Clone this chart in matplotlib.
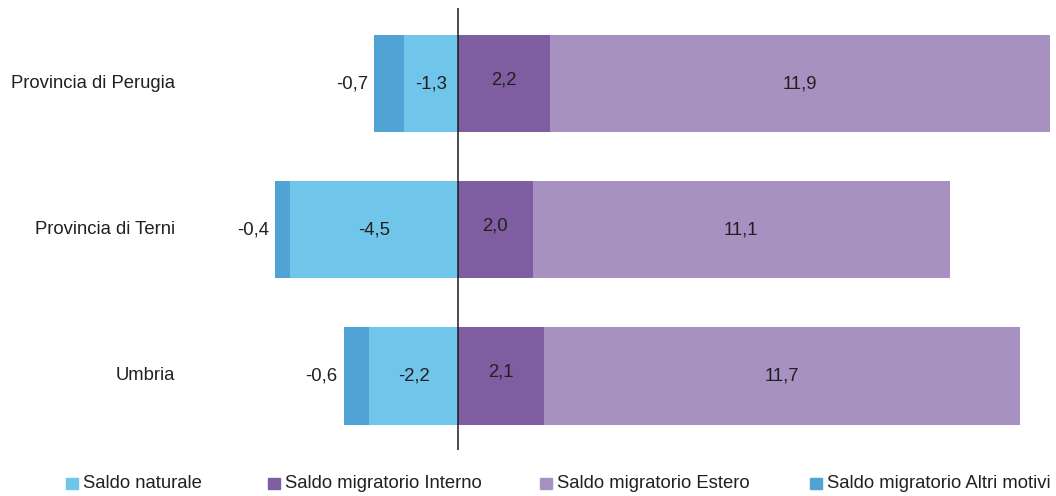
import matplotlib
matplotlib.use("Agg")
import matplotlib.pyplot as plt
from matplotlib.patches import Rectangle

plt.rcParams['font.family'] = ['Liberation Sans', 'DejaVu Sans']

categories = ["Provincia di Perugia", "Provincia di Terni", "Umbria"]
series_names = ["Saldo naturale", "Saldo migratorio Interno",
                "Saldo migratorio Estero", "Saldo migratorio Altri motivi"]
# printed values (labels)
naturale_lbl = ["-1,3", "-4,5", "-2,2"]
interno_lbl = ["2,2", "2,0", "2,1"]
estero_lbl = ["11,9", "11,1", "11,7"]
altri_lbl = ["-0,7", "-0,4", "-0,6"]
# bar lengths as drawn in the picture
naturale = [-1.29, -4.01, -2.13]
altri = [-0.72, -0.36, -0.60]
interno = [2.18, 1.77, 2.04]
estero = [11.92, 9.95, 11.34]

c_nat = "#6FC5EA"
c_int = "#7E5EA1"
c_est = "#A791C0"
c_alt = "#50A3D5"
txt = "#231F20"

W, H = 1056, 496
fig = plt.figure(figsize=(W / 100, H / 100), dpi=100)
ax = fig.add_axes([0, 1 - 450 / H, 1, 442 / H])
y = list(range(len(categories)))
h = 0.666
ax.barh(y, naturale, height=h, color=c_nat)
ax.barh(y, interno, height=h, color=c_int)
ax.barh(y, estero, left=interno, height=h, color=c_est)
ax.barh(y, altri, left=naturale, height=h, color=c_alt)

fs = 13.3
off = 0.032
for i in y:
    ax.text(naturale[i] / 2, i + off, naturale_lbl[i], ha='center', va='baseline', fontsize=fs, color=txt)
    ax.text(interno[i] / 2, i + 0.005, interno_lbl[i], ha='center', va='baseline', fontsize=fs, color=txt)
    ax.text(interno[i] + estero[i] / 2, i + off, estero_lbl[i], ha='center', va='baseline', fontsize=fs, color=txt)
    ax.text(naturale[i] + altri[i] - 0.15, i + off, altri_lbl[i], ha='right', va='baseline', fontsize=fs, color=txt)

ax.axvline(0, color="#1a1a1a", lw=1.1)
ax.set_xlim(-458.3 / 41.96, (W - 458.3) / 41.96)
ax.set_ylim(2.505, -0.515)
ax.set_yticks([])
ax.set_xticks([])
for s in ax.spines.values():
    s.set_visible(False)

for i, c in enumerate(categories):
    fig.text(175 / W, 1 - (87.5 + 146.4 * i) / H, c, ha='right', va='baseline',
             fontsize=fs, color=txt)

colors = [c_nat, c_int, c_est, c_alt]
leg_x = [66, 268, 540, 810]
for name, col, x0 in zip(series_names, colors, leg_x):
    fig.add_artist(Rectangle((x0 / W, 1 - 489.3 / H), 11.5 / W, 11 / H, color=col,
                             transform=fig.transFigure))
    fig.text((x0 + 17) / W, 1 - 488.3 / H, name, ha='left', va='baseline', fontsize=fs, color=txt)

fig.savefig("out.png", dpi=100)
